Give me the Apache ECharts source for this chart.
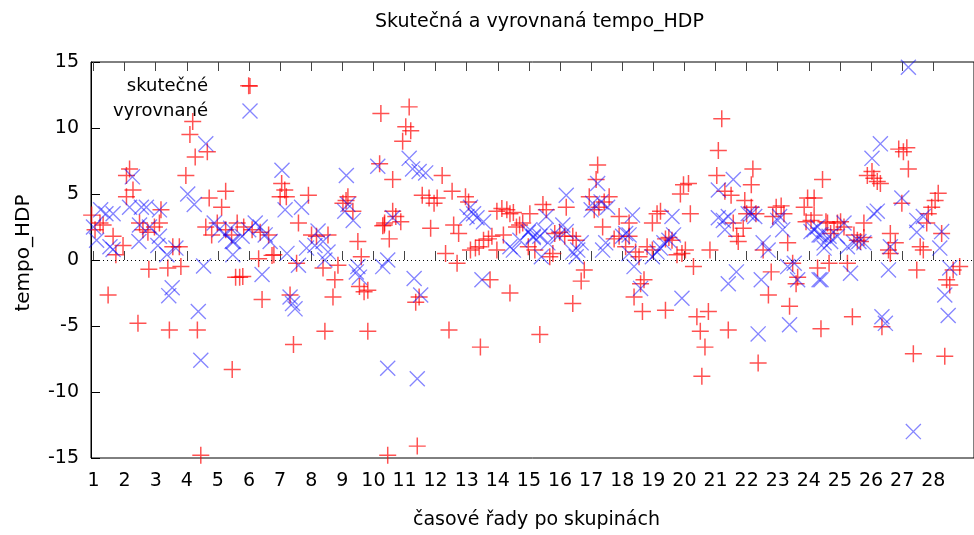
<!DOCTYPE html>
<html>
<head>
<meta charset="utf-8">
<script src="https://cdn.jsdelivr.net/npm/echarts@6/dist/echarts.min.js"></script>
<style>
  html, body { margin: 0; background: #fff; }
  #chart { width: 974px; height: 535px; }
</style>
</head>
<body>
<div id="chart"></div>
<script>
// popisky skupin na ose x
const groups = [1, 2, 3, 4, 5, 6, 7, 8, 9, 10, 11, 12, 13, 14, 15, 16, 17, 18, 19, 20, 21, 22, 23, 24, 25, 26, 27, 28];
const yTicks = [-15, -10, -5, 0, 5, 10, 15];

// skutečné hodnoty [pozice, tempo_HDP]
const skutecne = [
  [0.94, 3.4], [1.05, 2.3], [1.21, 2.8], [1.47, -2.65], [1.31, 2.65], [1.63, 1.8], [1.72, 0.4], [1.95, 1.1],
  [2.16, 6.9], [2.06, 6.4], [2.06, 4.8], [2.27, 5.3], [2.43, -4.8], [2.48, 2.8], [2.59, 2.3], [2.75, 2.1],
  [2.96, 2.5], [3.12, 2.8], [2.78, -0.7], [3.39, -0.6], [3.17, 3.8], [3.44, -5.3], [3.55, 1.0], [3.76, 1.0],
  [3.81, -0.5], [3.97, 6.4], [4.19, 10.5], [4.1, 9.5], [4.27, 7.8], [4.66, 8.2], [4.34, -5.3], [4.45, -14.8],
  [4.72, 4.7], [5.25, 5.2], [5.12, 4.0], [4.61, 2.5], [4.8, 1.9], [4.98, 2.8], [5.25, 2.3], [5.44, 1.9],
  [5.46, -8.3], [5.57, -1.3],
  [5.62, 2.8], [5.83, 2.5], [6.1, 2.3], [6.36, 2.1], [6.63, 1.9], [5.7, -1.3], [5.8, -1.25], [6.31, 0.1],
  [5.99, 13.2], [10.24, 11.1], [6.42, -3.0], [6.74, 0.35], [6.8, 0.4], [7.05, 5.8], [7.15, 5.3], [7.2, 4.8],
  [7.0, 4.8], [7.91, 4.9], [7.59, 2.8], [7.43, -6.4], [7.32, -2.65], [7.53, -0.25], [8.01, 1.9], [8.17, 1.8],
  [8.38, -0.6], [8.44, -5.4], [8.54, 1.9], [8.7, -2.8], [8.76, -1.5], [8.86, -0.4], [9.02, 4.3], [9.18, 4.8],
  [9.12, 4.5], [9.34, 3.7], [9.5, 1.4], [9.61, 0.25], [9.55, -2.0], [9.7, -2.4], [9.82, -2.3], [9.82, -5.4],
  [10.2, 7.3], [10.3, 2.6], [10.36, 2.8], [10.46, -14.8],
  [11.15, 11.6], [11.04, 10.1], [11.2, 9.8], [10.94, 9.0], [10.62, 6.1], [12.21, 6.4], [11.57, 4.9], [11.79, 4.7],
  [11.95, 4.3], [12.05, 4.7], [12.53, 5.2], [12.96, 4.8], [13.06, 4.4], [10.62, 3.7], [10.72, 3.3], [10.88, 2.9],
  [10.51, 1.6], [10.35, 2.65], [11.84, 2.4], [12.58, 2.65], [12.74, 2.0], [12.32, 0.5], [12.69, -0.25], [11.36, -3.2],
  [11.47, -2.8], [12.43, -5.3], [13.44, -6.6], [11.41, -14.1], [13.75, -1.5], [14.39, -2.5], [13.12, 0.75], [13.28, 0.9],
  [13.4, 1.0], [13.54, 1.5], [13.7, 1.6], [13.81, 1.8], [13.97, 0.75], [13.97, 3.7], [14.13, 3.9], [14.29, 3.8],
  [14.39, 3.5], [14.5, 3.6], [14.6, 2.5], [14.7, 2.65], [14.8, 2.8], [15.03, 3.5], [14.18, 1.9], [14.98, 1.0],
  [15.45, 4.2], [15.56, 3.8], [15.19, 0.75], [15.67, 0.25], [15.77, 0.5], [15.35, -5.65], [15.83, 2.0], [15.99, 2.1],
  [16.15, 1.8], [16.2, 4.0], [16.41, 1.8], [16.52, 1.5], [16.41, -3.3], [16.68, -1.6], [16.78, -0.75], [16.94, 4.8],
  [17.16, 6.1], [17.21, 7.2], [17.1, 3.8], [17.25, 4.0], [17.42, 4.4], [17.58, 4.8], [17.37, 2.5], [17.9, 3.3],
  [17.74, 1.6], [17.9, 1.8], [18.22, 1.8], [18.22, 2.8], [18.11, 1.0], [18.43, 0.6], [18.54, 0.25], [18.38, -2.8],
  [18.59, -1.8], [18.7, -1.5], [18.65, -3.9], [19.39, -3.8], [18.97, 2.8], [19.12, 3.5], [19.23, 3.7], [18.8, 1.0],
  [18.97, 0.75], [19.39, 1.6], [19.5, 1.7], [19.6, 1.5], [19.76, 0.4], [19.92, 0.5], [19.87, 5.0], [19.97, 5.7],
  [20.13, 5.8], [20.19, 3.5], [20.03, 0.75], [20.29, -0.5], [20.4, -4.3], [20.77, -3.9], [20.51, -5.4], [20.66, -6.6],
  [20.56, -8.8], [20.82, 0.75], [21.04, 6.4], [21.09, 8.3], [21.2, 10.7], [21.41, -5.3], [21.3, 5.2], [21.5, 4.9],
  [21.57, 2.8], [21.68, 1.8], [21.73, 1.4], [21.89, 2.4], [21.94, 4.5], [22.15, 5.7], [22.2, 6.9], [22.0, 3.5],
  [22.15, 4.0], [22.3, 3.5], [22.37, -7.8], [22.53, 0.75], [22.7, -2.65], [22.79, -0.9], [22.84, 3.3], [22.95, 4.0],
  [23.11, 4.1], [23.2, 3.5], [23.32, 1.3], [23.38, -3.5], [23.48, -0.25], [23.64, -1.3], [23.59, -1.8], [23.85, 4.0],
  [23.96, 4.7], [24.07, 3.0], [23.91, 2.9], [24.28, -0.6], [24.39, -5.2], [24.44, 6.1], [24.6, 2.8], [24.7, 2.0],
  [24.65, -0.25],
  [24.17, 4.7], [24.17, 3.4], [24.55, 2.9], [24.81, 2.3], [24.92, 2.8], [25.02, 2.9], [25.13, 2.5], [25.24, -0.25],
  [25.4, -4.3], [25.45, 1.9], [25.56, 1.5], [25.66, 1.4], [25.77, 1.7], [25.88, 6.4], [26.03, 6.7], [26.09, 6.2],
  [26.2, 5.95], [26.3, 5.8], [25.77, 2.8], [26.35, -5.05], [26.62, 2.0], [26.78, 1.3], [26.56, 0.75], [26.62, 0.5],
  [26.89, 8.4], [27.04, 8.2], [27.15, 8.5], [27.2, 6.9], [26.99, 4.3], [27.47, -0.75], [27.36, -7.1], [27.58, 1.0],
  [27.68, 0.75], [27.79, 2.8], [27.84, 3.5], [27.95, 4.0], [28.06, 4.5], [28.16, 5.05], [28.27, 2.0], [28.37, -7.3],
  [28.43, -1.5], [28.53, -1.9], [28.64, -0.75], [28.85, -0.5]
];

// vyrovnané hodnoty [pozice, tempo_HDP]
const vyrovnane = [
  [1.0, 2.5], [1.1, 1.5], [1.23, 3.8], [1.4, 3.5], [1.53, 1.0], [1.63, 0.8], [1.63, 3.5], [2.16, 4.0],
  [2.25, 6.3], [2.54, 4.0], [2.7, 4.0], [2.8, 2.5], [2.48, 2.65], [2.46, 1.4], [3.12, 3.8], [3.12, 1.8],
  [3.07, 1.1], [3.36, 0.4], [3.65, 0.9], [3.53, -2.1], [3.42, -2.7], [4.03, 5.0], [4.24, 4.2], [4.37, -3.9],
  [4.45, -7.6], [4.54, -0.45], [4.61, 8.8], [4.88, 2.8], [5.04, 2.3], [5.25, 1.9], [5.41, 2.4], [5.46, 1.4],
  [5.48, 0.4],
  [5.51, 1.4], [5.78, 1.8], [5.99, 2.3], [6.2, 2.8], [6.36, 2.5], [6.52, 1.9], [6.68, 1.4], [6.42, -1.1],
  [7.06, 6.8], [7.16, 3.8], [7.69, 4.0], [7.22, 0.5], [7.32, -2.8], [7.4, -3.3], [7.48, -3.7], [7.59, -0.4],
  [7.85, 0.9], [8.12, 1.1], [8.22, 2.2], [8.38, 1.4], [8.44, 0.0], [8.54, 0.6], [9.13, 6.4], [9.08, 3.7],
  [9.35, 3.0], [9.18, 4.2], [9.5, -0.5], [9.55, -1.3], [9.45, -0.9], [10.14, 7.1], [10.3, -0.5],
  [11.15, 7.7], [11.26, 6.9], [11.47, 6.7], [11.68, 6.6], [10.62, 3.2], [10.46, 0.0], [11.31, -1.4],
  [11.52, -2.65], [10.46, -8.2], [11.41, -9.0], [13.12, 4.0], [13.22, 3.5], [13.33, 3.2], [13.54, 2.9], [13.01, 3.3],
  [13.49, -1.5], [14.39, 1.0], [14.5, 0.75], [14.71, 1.5], [14.98, 2.1], [15.14, 1.8],
  [15.03, 2.3], [15.14, 1.7], [15.35, 1.8], [15.51, 2.2], [15.56, 3.3], [15.61, 1.3], [15.4, 0.25], [15.93, 1.8],
  [16.09, 2.65], [16.2, 2.15], [16.2, 4.9], [16.41, 0.6], [16.57, 0.75], [16.68, 1.3], [16.52, 0.25], [17.05, 4.3],
  [17.21, 5.8], [17.32, 4.4], [17.53, 4.0], [17.0, 3.8], [17.37, 0.75], [17.47, 1.3], [18.01, 1.8], [18.11, 2.0],
  [18.22, 1.9], [18.33, 3.4], [18.38, -0.5], [18.22, 0.5], [18.59, -2.15], [18.97, 0.25], [19.12, 0.6], [19.23, 0.9],
  [19.34, 1.3], [19.5, 1.5], [19.65, 1.9], [19.6, 3.3], [19.92, -2.9],
  [21.09, 5.3], [21.57, 6.1], [21.09, 3.2], [21.25, 3.0], [21.3, 2.3], [21.41, 3.3], [21.67, -0.9], [21.41, -1.8],
  [22.05, 3.5], [22.15, 3.5], [22.26, 3.3], [22.47, -1.5], [22.37, -5.6], [22.53, 1.3], [22.69, 0.75], [23.0, 3.0],
  [23.16, 2.3], [23.06, 3.3], [23.32, -0.5], [23.53, -0.25], [23.64, -1.5], [23.38, -4.9], [24.07, 2.15], [24.28, 2.5],
  [24.39, 1.9], [24.49, 1.3], [24.39, -1.5], [24.65, 1.8],
  [27.2, 14.6], [27.36, -13.0], [26.3, 8.8], [26.03, 7.7], [26.09, 3.5], [26.2, 3.7], [24.17, 2.3], [24.33, 1.9],
  [24.49, 0.9], [24.7, 1.4], [24.92, 1.8], [25.13, 2.8], [25.24, 1.0], [25.45, 1.3], [25.61, 1.4], [25.77, 1.3],
  [25.34, -1.0], [24.33, -1.5], [26.35, -4.3], [26.46, -4.8], [26.62, 1.0], [26.56, -0.75], [26.99, 4.7], [27.47, 3.0],
  [27.68, 3.3], [27.47, 2.1], [28.27, 2.15], [28.21, 0.9], [28.37, -2.65], [28.48, -4.2], [28.53, -0.6]
];

// znacky jako v gnuplotu: plus a krizek
const plusPath = "path://M0,7.3H16V8.7H0ZM7.3,0H8.7V16H7.3Z";
const crossPath = "path://M0,0.95L0.95,0L16,15.05L15.05,16ZM15.05,0L16,0.95L0.95,16L0,15.05Z";
const font = "DejaVu Sans";

const myChart = echarts.init(document.querySelector("#chart"));

const option = {
  animation: false,
  backgroundColor: "#fff",
  title: {
    text: "Skutečná a vyrovnaná tempo_HDP",
    left: 370,
    top: 8,
    textStyle: { fontFamily: font, fontSize: 19, fontWeight: "normal", color: "#000" },
  },
  legend: [
    {
      data: [{ name: "skutečné", icon: plusPath, itemStyle: { color: "rgba(255,0,0,0.85)", borderColor: "transparent", borderWidth: 0 } }],
      right: 716,
      top: 77,
      padding: 0,
      align: "right",
      itemWidth: 16,
      itemHeight: 16,
      textStyle: { fontFamily: font, fontSize: 18, color: "#000", padding: [0, 29, 0, 0] },
    },
    {
      data: [{ name: "vyrovnané", icon: crossPath, itemStyle: { color: "rgba(0,0,255,0.6)", borderColor: "transparent", borderWidth: 0 } }],
      right: 716,
      top: 102,
      padding: 0,
      align: "right",
      itemWidth: 16,
      itemHeight: 16,
      textStyle: { fontFamily: font, fontSize: 18, color: "#000", padding: [0, 29, 0, 0] },
    },
  ],
  grid: {
    left: 91,
    top: 62,
    width: 890,
    height: 396,
    show: true,
    borderColor: "#000",
    borderWidth: 1,
  },
  xAxis: [
    {
      type: "value",
      min: 0.92,
      max: 29.31,
      name: "časové řady po skupinách",
      nameLocation: "middle",
      nameGap: 53,
      nameTextStyle: { fontFamily: font, fontSize: 19, color: "#000", padding: [0, 0, 0, 8] },
      axisLine: { show: false },
      splitLine: { show: false },
      axisTick: { inside: true, length: 9, customValues: groups, lineStyle: { color: "#444" } },
      axisLabel: { customValues: groups, margin: 14, fontFamily: font, fontSize: 19, color: "#000" },
    },
    {
      type: "value",
      position: "top",
      min: 0.92,
      max: 29.31,
      axisLine: { show: false },
      splitLine: { show: false },
      axisTick: { inside: true, length: 9, customValues: groups, lineStyle: { color: "#444" } },
      axisLabel: { show: false },
    },
  ],
  yAxis: {
    type: "value",
    min: -15,
    max: 15,
    interval: 5,
    name: "tempo_HDP",
    nameLocation: "middle",
    nameGap: 57,
    nameTextStyle: { fontFamily: font, fontSize: 20, color: "#000", padding: [0, 0, 0, 14] },
    axisLine: { show: true, lineStyle: { color: "#000" } },
    splitLine: { show: false },
    axisTick: { inside: true, length: 9, lineStyle: { color: "#000" } },
    axisLabel: {
      margin: 12,
      fontFamily: font,
      fontSize: 19,
      color: "#000",
      customValues: yTicks,
    },
  },
  series: [
    {
      name: "skutečné",
      type: "scatter",
      symbol: plusPath,
      symbolSize: 17,
      itemStyle: { color: "rgba(255,0,0,0.85)" },
      data: skutecne,
      markLine: {
        silent: true,
        symbol: "none",
        label: { show: false },
        lineStyle: { color: "#000", type: [1, 3], width: 1 },
        data: [{ yAxis: 0 }],
      },
    },
    {
      name: "vyrovnané",
      type: "scatter",
      symbol: crossPath,
      symbolSize: 16,
      itemStyle: { color: "rgba(0,0,255,0.6)" },
      data: vyrovnane,
    },
  ],
};

myChart.setOption(option);
</script>
</body>
</html>
